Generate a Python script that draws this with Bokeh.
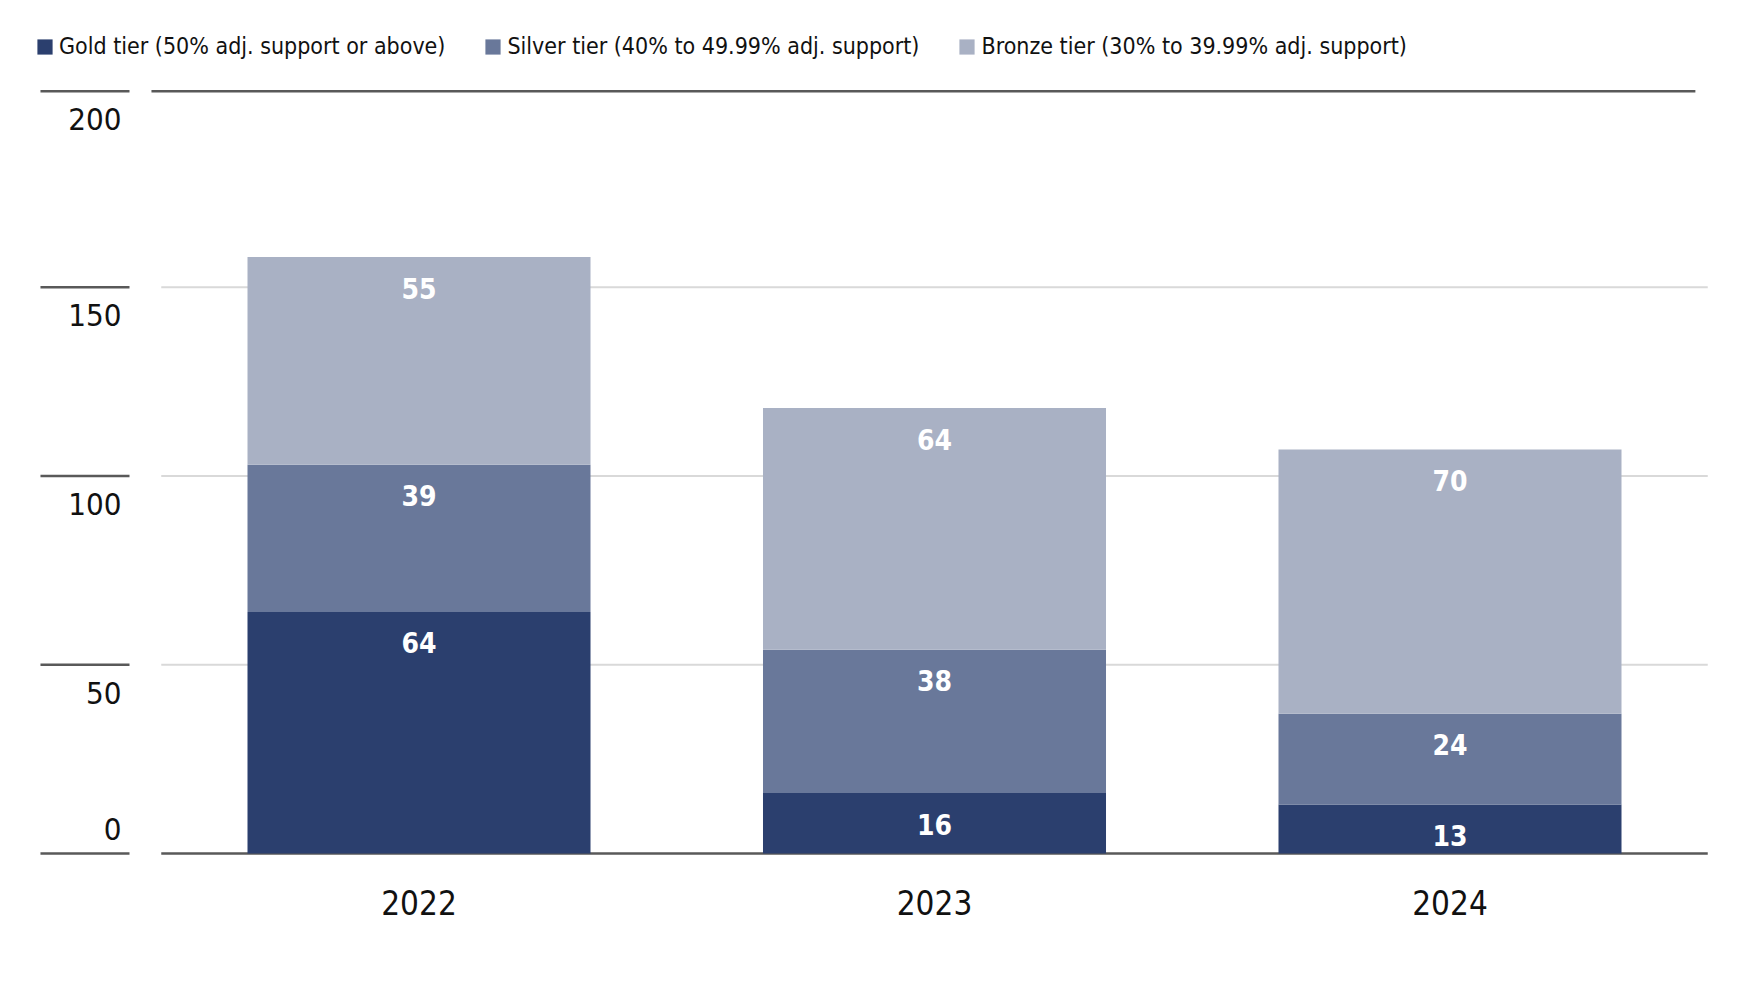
from bokeh.plotting import figure
from bokeh.models import ColumnDataSource, Range1d, Legend, LegendItem
from bokeh.embed import file_html
from bokeh.resources import INLINE

# ---- data ----
years = ["2022", "2023", "2024"]
gold = [64, 16, 13]
silver = [39, 38, 24]
bronze = [55, 64, 70]
tiers = ["gold", "silver", "bronze"]
tier_labels = [
    "Gold tier (50% adj. support or above)",
    "Silver tier (40% to 49.99% adj. support)",
    "Bronze tier (30% to 39.99% adj. support)",
]
tier_colors = ["#2b3f6e", "#69789a", "#a9b1c4"]
y_ticks = [0, 50, 100, 150, 200]

# ---- layout / style ----
W, H = 1740, 985
X0, X1 = -0.81184, 2.56353
Y0, Y1 = -34.97, 225.96
Y_TOP = 201.9
BAR_W = 0.6654
FONT = "DejaVu Sans Condensed"
DARK = "#595959"
GRID = "#d9d9d9"
TEXT = "#111111"

xs = list(range(len(years)))
src = ColumnDataSource(dict(x=xs, gold=gold, silver=silver, bronze=bronze))

p = figure(width=W, height=H, x_range=Range1d(X0, X1), y_range=Range1d(Y0, Y1),
           output_backend="svg", toolbar_location=None,
           x_axis_location=None, y_axis_location=None,
           min_border=0, outline_line_color=None)
p.grid.visible = False
p.background_fill_color = "white"
p.border_fill_color = "white"

# gridlines (interior ticks)
grid_vals = [t for t in y_ticks if 0 < t < y_ticks[-1]]
p.segment(x0=[-0.5] * len(grid_vals), y0=grid_vals,
          x1=[len(years) - 0.5] * len(grid_vals), y1=grid_vals,
          line_color=GRID, line_width=2)
# top border line
p.segment(x0=[-0.519], y0=[Y_TOP], x1=[2.476], y1=[Y_TOP], line_color=DARK, line_width=2.5)
# zero baseline
p.segment(x0=[-0.5], y0=[0], x1=[len(years) - 0.5], y1=[0], line_color=DARK, line_width=2.5)

# left tick segments + labels
tick_y = [Y_TOP if t == y_ticks[-1] else t for t in y_ticks]
tick_src = ColumnDataSource(dict(
    y=tick_y,
    x0=[-0.7343] * len(y_ticks),
    x1=[-0.5616] * len(y_ticks),
    xl=[-0.5771] * len(y_ticks),
    txt=[str(t) for t in y_ticks],
    off=[-24.5 if t == 0 else 28 for t in y_ticks],
))
p.segment(x0="x0", y0="y", x1="x1", y1="y", source=tick_src, line_color=DARK, line_width=2.5)
p.text(x="xl", y="y", text="txt", y_offset="off", source=tick_src,
       text_align="right", text_baseline="middle", text_color=TEXT,
       text_font={"value": FONT}, text_font_size="31px")

# stacked bars
renderers = p.vbar_stack(tiers, x="x", width=BAR_W, source=src,
                         fill_color=tier_colors, line_color=None)

# value labels inside top of each segment
series = [gold, silver, bronze]
cum = [0] * len(years)
for vals in series:
    cum = [c + v for c, v in zip(cum, vals)]
    p.text(x=xs, y=list(cum), text=[str(v) for v in vals], y_offset=31,
           text_align="center", text_baseline="middle", text_color="white",
           text_font={"value": FONT}, text_font_style="bold", text_font_size="28px")

# category labels
p.text(x=xs, y=[0] * len(years), text=years, y_offset=49.5,
       text_align="center", text_baseline="middle", text_color=TEXT,
       text_font={"value": FONT}, text_font_size="33px")

legend = Legend(
    items=[LegendItem(label=l, renderers=[r]) for l, r in zip(tier_labels, renderers)],
    orientation="horizontal", location=(35, 926),
    padding=0, margin=0, spacing=38, label_standoff=5,
    glyph_width=19, glyph_height=19,
    border_line_color=None, background_fill_alpha=0,
    label_text_font=FONT, label_text_font_size="23px", label_text_color=TEXT,
)
p.add_layout(legend)

open("out.html", "w").write(file_html(p, INLINE))
